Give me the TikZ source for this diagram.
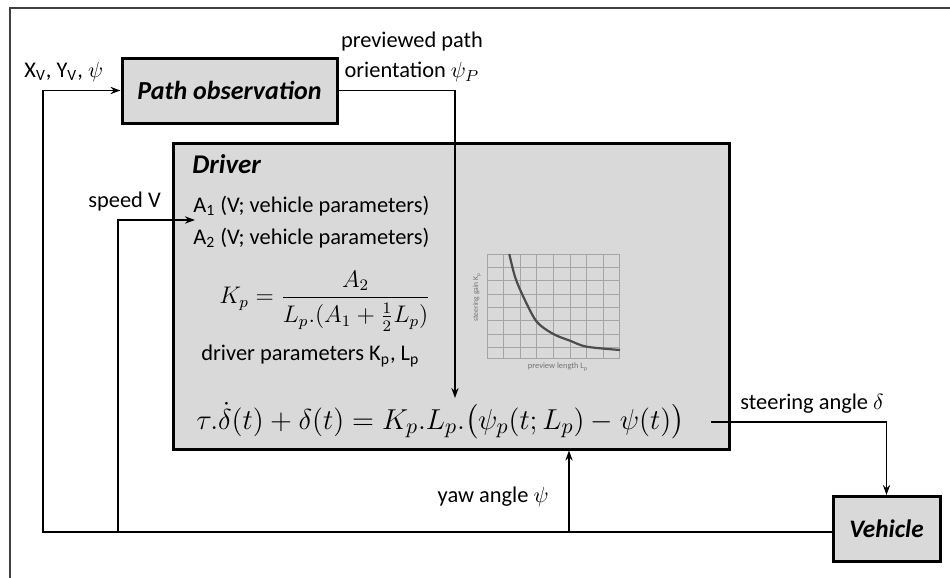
\documentclass[tikz,border=0pt]{standalone}
\usepackage{amsmath}
\usepackage{fontspec}
\setmainfont{Carlito}
\usetikzlibrary{positioning,arrows.meta}
\definecolor{boxgray}{HTML}{D9D9D9}
\definecolor{plotgray}{HTML}{A5A5A5}
\begin{document}
\begin{tikzpicture}[x=0.5pt,y=-0.5pt,
    block/.style={draw,line width=1.5pt,fill=boxgray,inner sep=0pt,
      font=\fontsize{13}{15}\selectfont\bfseries\itshape},
    wire/.style={line width=0.8pt},
    flow/.style={wire,-{Stealth[length=5pt,width=3.6pt]}},
    lbl/.style={font=\fontsize{11.2}{15}\selectfont,inner sep=0pt}]
  \useasboundingbox (0,0) rectangle (950,578);
  % frame
  \draw[line width=0.6pt,black!75] (10,578) -- (10,8) -- (950,8);

  % blocks
  \node[block,minimum width=107.5pt,minimum height=32.5pt] (pathobs) at (229.5,90.5) {Path observation};
  \node[block,minimum width=278pt,minimum height=153pt] (driver) at (451,296) {};
  \node[block,minimum width=53.5pt,minimum height=32.5pt,font=\fontsize{12.6}{14}\selectfont\bfseries\itshape] (vehicle) at (886.5,529) {Vehicle};

  % driver contents
  \node[lbl,anchor=west,font=\fontsize{13.5}{15}\selectfont\bfseries\itshape] (drvtitle) at (192,164) {Driver};
  \node[lbl,anchor=west] (aone) at (193,206) {A\textsubscript{1} (V; vehicle parameters)};
  \node[lbl,anchor=west] (atwo) at (193,238) {A\textsubscript{2} (V; vehicle parameters)};
  \node[lbl,anchor=west,font=\fontsize{11.8}{14}\selectfont] (kp) at (219,301)
    {$\displaystyle K_p=\frac{\rule[-2pt]{0pt}{9pt}A_2}{\rule{0pt}{11pt}L_p.(A_1+\tfrac{1}{2}L_p)}$};
  \node[lbl,anchor=west] (drvpar) at (201,356) {driver parameters K\textsubscript{p}, L\textsubscript{p}};
  \node[lbl,anchor=west,font=\fontsize{15.1}{17}\selectfont] (eqn) at (196,421)
    {$\tau.\dot{\delta}(t)+\delta(t)=K_p.L_p.\bigl(\psi_p(t;L_p)-\psi(t)\bigr)$};

  % small gain plot
  \foreach \i in {0,...,8}
    \draw[plotgray,line width=0.4pt] (487+16.6*\i,254) -- (487+16.6*\i,358);
  \foreach \j in {0,...,7}
    \draw[plotgray,line width=0.4pt] (487,254+13.33*\j) -- (620,254+13.33*\j);
  \draw[plotgray,line width=0.4pt] (487,358) -- (620,358);
  \draw[black!70,line width=1.1pt] plot[smooth] coordinates
    {(509.3,254) (515,276.7) (523.3,296.7) (536.7,321.7) (553.3,334) (570,340.7) (586.7,346.7) (620,350)};
  \node[rotate=90,text=black!55,font=\fontsize{3.8}{4}\selectfont,inner sep=0pt] (gainlbl) at (477,297) {steering gain K\textsubscript{p}};
  \node[text=black!55,font=\fontsize{4.2}{5}\selectfont,inner sep=0pt] (lenlbl) at (558,367) {preview length L\textsubscript{p}};

  % signal labels
  \node[lbl,anchor=west] (xylbl) at (24,72) {X\textsubscript{V}, Y\textsubscript{V}, $\psi$};
  \node[lbl,align=center] (prvlbl) at (412,57) {previewed path\\orientation $\psi_P$};
  \node[lbl,anchor=west] (spdlbl) at (88,202) {speed V};
  \node[lbl,anchor=west] (strlbl) at (740,404) {steering angle $\delta$};
  \node[lbl,anchor=east] (yawlbl) at (549,497) {yaw angle $\psi$};

  % connectors
  \coordinate (fbL) at (43,532);
  \coordinate (fbV) at (118,532);
  \coordinate (fbY) at (569,532);
  \coordinate (spdin) at (195,220);
  \coordinate (prvin) at (455,398);
  \coordinate (strout) at (711,422);
  \draw[flow] (vehicle.west |- fbL) -- (fbL) |- (pathobs.west);
  \draw[flow] (fbV) |- (spdin);
  \draw[flow] (fbY) -- (fbY |- driver.south);
  \draw[flow] (pathobs.east) -| (prvin);
  \draw[flow] (strout) -| (vehicle.north);
\end{tikzpicture}
\end{document}
